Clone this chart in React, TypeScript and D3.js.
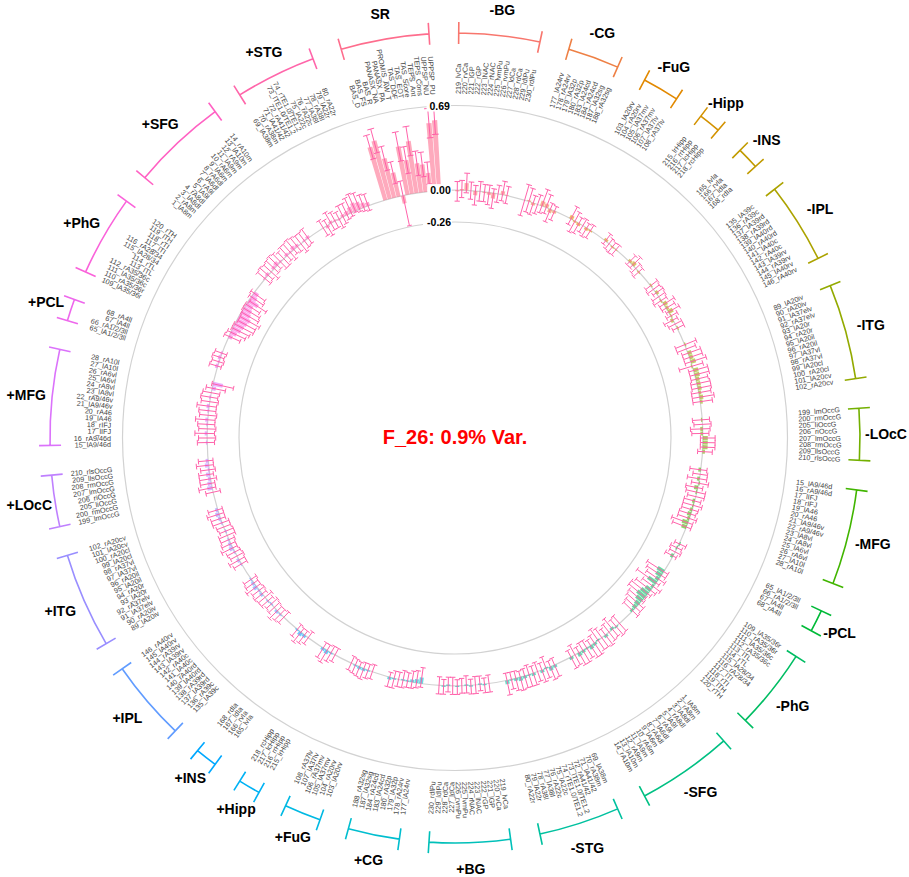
import React from "react";
import * as d3 from "d3";

// ---------- DATA ----------
const regionNames = ["BG", "CG", "FuG", "Hipp", "INS", "IPL", "ITG", "LOcC", "MFG", "PCL", "PhG", "SFG", "STG"];

const labelsBG = ["219_lvCa", "220_rvCa", "221_lGP", "222_rGP", "223_lNAC", "224_rNAC", "225_lvmPu", "226_rvmPu", "227_ldCa", "228_rdCa", "229_ldlPu", "230_rdlPu"];
const labelsCG = ["177_lA24rv", "178_rA24rv", "179_lA32p", "180_rA32p", "183_lA24cd", "184_rA24cd", "187_lA32sg", "188_rA32sg"];
const labelsFuG = ["103_lA20rv", "104_rA20rv", "105_lA37mv", "106_rA37mv", "107_lA37lv", "108_rA37lv"];
const labelsHipp = ["215_lrHipp", "216_rrHipp", "217_lcHipp", "218_rcHipp"];
const labelsINS = ["165_lvIa", "166_rvIa", "167_ldIa", "168_rdIa"];
const labelsIPL = ["135_lA39c", "136_rA39c", "137_lA39rd", "138_rA39rd", "139_lA40rd", "140_rA40rd", "141_lA40c", "142_rA40c", "143_lA39rv", "144_rA39rv", "145_lA40rv", "146_rA40rv"];
const labelsITG = ["89_lA20iv", "90_rA20iv", "91_lA37elv", "92_rA37elv", "93_lA20r", "94_rA20r", "95_lA20il", "96_rA20il", "97_lA37vl", "98_rA37vl", "99_lA20cl", "100_rA20cl", "101_lA20cv", "102_rA20cv"];
const labelsLOcC = ["199_lmOccG", "200_rmOccG", "205_liOccG", "206_riOccG", "207_lmOccG", "208_rmOccG", "209_llsOccG", "210_rlsOccG"];
const labelsMFG = ["15_lA9/46d", "16_rA9/46d", "17_lIFJ", "18_rIFJ", "19_lA46", "20_rA46", "21_lA9/46v", "22_rA9/46v", "23_lA8vl", "24_rA8vl", "25_lA6vl", "26_rA6vl", "27_lA10l", "28_rA10l"];
const labelsPCL = ["65_lA1/2/3ll", "66_rA1/2/3ll", "67_lA4ll", "68_rA4ll"];
const labelsPhG = ["109_lA35/36r", "110_rA35/36r", "111_lA35/36c", "112_rA35/36c", "113_lTL", "114_rTL", "115_lA28/34", "116_rA28/34", "117_lTI", "118_rTI", "119_lTH", "120_rTH"];
const labelsSFG = ["1_lA8m", "2_rA8m", "3_lA8dl", "4_rA8dl", "5_lA9l", "6_rA9l", "7_lA6dl", "8_rA6dl", "9_lA6m", "10_rA6m", "11_lA9m", "12_rA9m", "13_lA10m", "14_rA10m"];
const labelsSTG = ["69_lA38m", "70_rA38m", "71_lA41/42", "72_rA41/42", "73_lTE1.0/TE1.2", "74_rTE1.0/TE1.2", "75_lA22c", "76_rA22c", "77_lA38l", "78_rA38l", "79_lA22r", "80_rA22r"];
const regionLabels = [labelsBG, labelsCG, labelsFuG, labelsHipp, labelsINS, labelsIPL, labelsITG, labelsLOcC, labelsMFG, labelsPCL, labelsPhG, labelsSFG, labelsSTG];

const srLabels = ["BAS_D", "BAS_FS", "BAS_R", "PANASX_NA", "PANASX_PA", "PROMIS_AW_T", "TAS_DDF", "TAS_EOT", "TAS_Score", "TEPS_Ant", "TEPS_Cons", "UPPSP_NU", "UPPSP_PU"];

// "-" groups, region order as regionNames
const negValues = [
  -0.01, 0.01, 0.06, 0.0, -0.035, 0.0, -0.01, -0.02, -0.045, 0.0, 0.03, 0.005, // BG
  0.0, 0.01, -0.02, 0.0, 0.04, 0.03, -0.03, -0.02, // CG
  0.03, -0.01, -0.02, 0.0, -0.02, -0.01, // FuG
  0.02, 0.0, -0.01, -0.005, // Hipp
  0.02, 0.03, 0.0, -0.01, // INS
  0.01, 0.0, 0.02, 0.0, -0.01, 0.03, 0.02, 0.04, 0.01, -0.02, 0.0, 0.01, // IPL
  0.01, 0.0, 0.03, 0.03, 0.04, -0.01, 0.04, 0.04, 0.03, 0.03, 0.03, 0.02, 0.03, 0.02, // ITG
  -0.01, 0.0, -0.02, -0.02, 0.04, 0.04, 0.04, 0.02, // LOcC
  -0.02, 0.0, -0.02, 0.01, -0.03, -0.01, 0.0, -0.02, -0.01, -0.02, -0.03, -0.02, -0.05, -0.04, // MFG
  0.01, -0.01, 0.0, -0.02, // PCL
  -0.06, -0.05, -0.03, -0.08, -0.02, -0.05, -0.07, -0.08, -0.06, -0.04, -0.03, -0.02, // PhG
  0.0, 0.01, -0.02, 0.0, 0.02, 0.0, -0.01, 0.02, 0.03, 0.01, 0.02, 0.03, 0.0, 0.02, // SFG
  0.02, 0.03, -0.01, 0.02, 0.0, 0.02, 0.01, 0.02, 0.03, 0.02, 0.01, 0.03, // STG
];
const negErrors = [
  0.08, 0.07, 0.08, 0.07, 0.08, 0.08, 0.07, 0.08, 0.08, 0.07, 0.08, 0.07,
  0.13, 0.1, 0.08, 0.08, 0.1, 0.08, 0.08, 0.06,
  0.08, 0.09, 0.07, 0.06, 0.06, 0.06,
  0.05, 0.05, 0.05, 0.05,
  0.05, 0.06, 0.05, 0.05,
  0.06, 0.06, 0.05, 0.06, 0.06, 0.07, 0.06, 0.06, 0.05, 0.06, 0.06, 0.05,
  0.09, 0.08, 0.08, 0.08, 0.09, 0.1, 0.08, 0.08, 0.07, 0.08, 0.08, 0.08, 0.09, 0.08,
  0.07, 0.07, 0.08, 0.07, 0.06, 0.06, 0.06, 0.06,
  0.07, 0.06, 0.08, 0.07, 0.07, 0.08, 0.07, 0.07, 0.08, 0.07, 0.07, 0.08, 0.09, 0.08,
  0.05, 0.05, 0.05, 0.05,
  0.1, 0.09, 0.09, 0.11, 0.09, 0.1, 0.1, 0.09, 0.08, 0.09, 0.08, 0.08,
  0.08, 0.08, 0.09, 0.08, 0.08, 0.09, 0.1, 0.09, 0.08, 0.08, 0.09, 0.08, 0.09, 0.08,
  0.08, 0.08, 0.09, 0.08, 0.08, 0.08, 0.09, 0.08, 0.08, 0.08, 0.07, 0.09,
];

// "+" groups
const posValues = [
  0.0, 0.01, -0.01, 0.0, 0.01, -0.01, 0.0, 0.01, 0.0, -0.01, 0.01, 0.0, // BG
  -0.05, -0.03, -0.02, -0.01, -0.01, 0.0, 0.01, 0.02, // CG
  0.0, 0.01, 0.02, 0.02, 0.01, 0.0, // FuG
  0.0, 0.01, 0.03, 0.02, // Hipp
  0.0, 0.02, 0.03, 0.01, // INS
  0.0, 0.01, 0.02, 0.0, -0.01, 0.01, 0.0, 0.02, 0.01, 0.03, 0.02, 0.01, // IPL
  0.01, 0.02, 0.0, 0.01, 0.03, 0.02, 0.01, 0.0, -0.01, 0.0, 0.01, 0.02, 0.03, 0.02, // ITG
  0.0, 0.04, 0.03, 0.02, 0.03, 0.01, 0.03, 0.02, // LOcC
  0.01, 0.0, 0.02, 0.0, 0.01, 0.02, 0.0, 0.01, 0.02, 0.0, 0.01, 0.0, -0.03, -0.08, // MFG
  0.02, 0.01, 0.02, 0.01, // PCL
  -0.03, -0.05, -0.07, -0.08, -0.09, -0.1, -0.08, -0.07, -0.06, -0.09, -0.05, -0.04, // PhG
  0.01, 0.02, 0.0, 0.02, 0.03, 0.01, 0.0, 0.02, 0.01, 0.03, 0.02, 0.0, 0.01, 0.02, // SFG
  0.0, -0.02, 0.02, 0.01, -0.01, 0.02, 0.03, 0.05, 0.07, 0.06, 0.04, 0.03, // STG
];
const posErrors = [
  0.07, 0.06, 0.06, 0.07, 0.06, 0.07, 0.06, 0.06, 0.07, 0.06, 0.06, 0.07,
  0.08, 0.07, 0.07, 0.06, 0.07, 0.06, 0.07, 0.06,
  0.06, 0.06, 0.07, 0.06, 0.06, 0.06,
  0.06, 0.07, 0.08, 0.07,
  0.06, 0.06, 0.07, 0.06,
  0.06, 0.06, 0.07, 0.06, 0.06, 0.06, 0.07, 0.06, 0.06, 0.07, 0.06, 0.06,
  0.06, 0.07, 0.06, 0.06, 0.07, 0.06, 0.06, 0.07, 0.06, 0.06, 0.07, 0.06, 0.07, 0.06,
  0.06, 0.07, 0.06, 0.07, 0.06, 0.06, 0.07, 0.06,
  0.07, 0.07, 0.08, 0.07, 0.07, 0.08, 0.07, 0.07, 0.08, 0.07, 0.07, 0.07, 0.08, 0.09,
  0.05, 0.05, 0.05, 0.05,
  0.07, 0.08, 0.08, 0.09, 0.08, 0.09, 0.08, 0.08, 0.07, 0.08, 0.07, 0.07,
  0.07, 0.07, 0.08, 0.07, 0.07, 0.08, 0.07, 0.07, 0.08, 0.07, 0.07, 0.08, 0.07, 0.07,
  0.07, 0.07, 0.08, 0.07, 0.07, 0.08, 0.07, 0.08, 0.08, 0.08, 0.07, 0.07,
];

const srValues = [0.45, 0.49, 0.33, 0.2, -0.065, 0.4, 0.28, 0.43, 0.24, 0.225, 0.15, 0.555, 0.575];
const srErrors = [0.1, 0.1, 0.1, 0.09, 0.185, 0.12, 0.11, 0.12, 0.1, 0.1, 0.09, 0.12, 0.115];

const tickValues = [0.69, 0, -0.26];
const tickLabels = ["0.69", "0.00", "-0.26"];
const titleText = "F_26: 0.9% Var.";

// ---------- HELPERS ----------
function hueColor(h: number, c = 100, l = 65): string {
  const hr = (h * Math.PI) / 180;
  const U = c * Math.cos(hr), V = c * Math.sin(hr);
  const Xn = 95.047, Yn = 100.0, Zn = 108.883;
  const Y = l > 8 ? Yn * Math.pow((l + 16) / 116, 3) : (Yn * l) / 903.3;
  const den = Xn + 15 * Yn + 3 * Zn;
  const un = (4 * Xn) / den, vn = (9 * Yn) / den;
  const up = U / (13 * l) + un, vp = V / (13 * l) + vn;
  const X = (Y * 9 * up) / (4 * vp);
  const Z = (Y * (12 - 3 * up - 20 * vp)) / (4 * vp);
  const x = X / 100, y = Y / 100, z = Z / 100;
  const lin = [
    3.240479 * x - 1.53715 * y - 0.498535 * z,
    -0.969256 * x + 1.875992 * y + 0.041556 * z,
    0.055648 * x - 0.204043 * y + 1.057311 * z,
  ];
  const g = lin.map((v) => {
    const s = v <= 0.0031308 ? 12.92 * v : 1.055 * Math.pow(v, 1 / 2.4) - 0.055;
    return Math.max(0, Math.min(255, Math.round(s * 255)));
  });
  return d3.rgb(g[0], g[1], g[2]).formatHex();
}

type Bar = { slot: number; label: string; value: number; err: number; group: number };
type Group = { name: string; start: number; end: number };

const bars: Bar[] = [];
const groups: Group[] = [];
(() => {
  let slot = 0;
  const add = (name: string, labels: string[], vals: number[], errs: number[]) => {
    const start = slot;
    labels.forEach((lab, i) => {
      bars.push({ slot, label: lab, value: vals[i], err: errs[i], group: groups.length });
      slot++;
    });
    groups.push({ name, start, end: slot - 1 });
    slot += 3;
  };
  for (const sign of ["-", "+"]) {
    let off = 0;
    regionNames.forEach((rn, ri) => {
      const labs = regionLabels[ri];
      const vals = sign === "-" ? negValues : posValues;
      const errs = sign === "-" ? negErrors : posErrors;
      add(sign + rn, labs, vals.slice(off, off + labs.length), errs.slice(off, off + labs.length));
      off += labs.length;
    });
  }
  add("SR", srLabels, srValues, srErrors);
})();
const N = bars[bars.length - 1].slot + 4; // 342

// ---------- COMPONENT ----------
export default function App() {
  const W = 909, H = 877, cx = 455, cy = 438;
  const step = (2 * Math.PI) / N;
  const angle = (s: number) => (s + 0.5) * step;
  const r = d3.scaleLinear().domain([-0.26, 0.69]).range([216, 332.5]);
  const colors = groups.map((_, i) => hueColor(15 + (i * 360) / groups.length));
  const pt = (rad: number, a: number): [number, number] => [cx + rad * Math.sin(a), cy - rad * Math.cos(a)];
  const arcPath = (rad: number, a0: number, a1: number) => {
    const p0 = pt(rad, a0), p1 = pt(rad, a1);
    const large = a1 - a0 > Math.PI ? 1 : 0;
    return `M${p0[0]},${p0[1]}A${rad},${rad} 0 ${large} 1 ${p1[0]},${p1[1]}`;
  };
  const barArc = d3.arc<Bar>()
    .innerRadius((d) => r(Math.min(0, d.value)))
    .outerRadius((d) => r(Math.max(0, d.value)))
    .startAngle((d) => angle(d.slot) - 0.45 * step)
    .endAngle((d) => angle(d.slot) + 0.45 * step);

  const labelR = 344;
  const bracketR = 405;
  const font = "'Liberation Sans', Arial, Helvetica, sans-serif";
  const axisAngle = angle(N - 1);

  return (
    <svg width={W} height={H} style={{ position: "absolute", left: 0, top: 0, background: "#fff" }} fontFamily={font}>
      <rect width={W} height={H} fill="#fff" />
      {/* grid circles */}
      {tickValues.map((t, i) => (
        <circle key={i} cx={cx} cy={cy} r={r(t)} fill="none" stroke="#d2d2d2" strokeWidth={1.2} />
      ))}
      {/* bars */}
      <g transform={`translate(${cx},${cy})`}>
        {bars.map((b, i) => (
          <path key={i} d={barArc(b) || ""} fill={colors[b.group]} fillOpacity={0.58} />
        ))}
      </g>
      {/* error bars */}
      <g stroke="#ff5aa5" strokeWidth={0.95} fill="none">
        {bars.map((b, i) => {
          const a = angle(b.slot);
          const lo = r(b.value - b.err), hi = r(b.value + b.err);
          const p0 = pt(lo, a), p1 = pt(hi, a);
          const w = 0.6 * step;
          return (
            <path key={i} d={`M${p0[0]},${p0[1]}L${p1[0]},${p1[1]}` + arcPath(lo, a - w, a + w) + arcPath(hi, a - w, a + w)} />
          );
        })}
      </g>
      {/* bar labels */}
      <g fontSize={7.2} fill="#444444">
        {bars.map((b, i) => {
          const deg = (angle(b.slot) * 180) / Math.PI;
          const right = deg < 180;
          return (
            <text
              key={i}
              transform={`translate(${cx},${cy}) rotate(${deg - 90}) translate(${labelR},0)${right ? "" : " rotate(180)"}`}
              textAnchor={right ? "start" : "end"}
              dominantBaseline="central"
            >
              {b.label}
            </text>
          );
        })}
      </g>
      {/* axis tick labels */}
      {tickValues.map((t, i) => {
        const [px, py] = pt(r(t), axisAngle);
        const wEst = tickLabels[i].length * 5.6 + (tickLabels[i].includes("-") ? -1 : 0);
        return (
          <g key={i}>
            <rect x={px - 2 - wEst - 1} y={py - 6} width={wEst + 2} height={12} fill="#fff" />
            <text x={px - 2} y={py} textAnchor="end" dominantBaseline="central" fontSize={10.5} fontWeight="bold" fill="#000">
              {tickLabels[i]}
            </text>
          </g>
        );
      })}
      {/* group brackets */}
      {groups.map((g, i) => {
        const a0 = angle(g.start), a1 = angle(g.end);
        const c0a = pt(bracketR - 11, a0), c0b = pt(bracketR + 11, a0);
        const c1a = pt(bracketR - 11, a1), c1b = pt(bracketR + 11, a1);
        const mid = (a0 + a1) / 2;
        const [tx, ty] = pt(431, mid);
        return (
          <g key={i}>
            <path
              d={arcPath(bracketR, a0, a1) + `M${c0a[0]},${c0a[1]}L${c0b[0]},${c0b[1]}M${c1a[0]},${c1a[1]}L${c1b[0]},${c1b[1]}`}
              fill="none"
              stroke={colors[i]}
              strokeWidth={1.6}
            />
            <text x={tx} y={ty} textAnchor="middle" dominantBaseline="central" fontSize={14} fontWeight="bold" fill="#000">
              {g.name}
            </text>
          </g>
        );
      })}
      {/* center title */}
      <text x={cx} y={cy - 1} textAnchor="middle" dominantBaseline="central" fontSize={20} fontWeight="bold" fill="#ff0000">
        {titleText}
      </text>
    </svg>
  );
}
